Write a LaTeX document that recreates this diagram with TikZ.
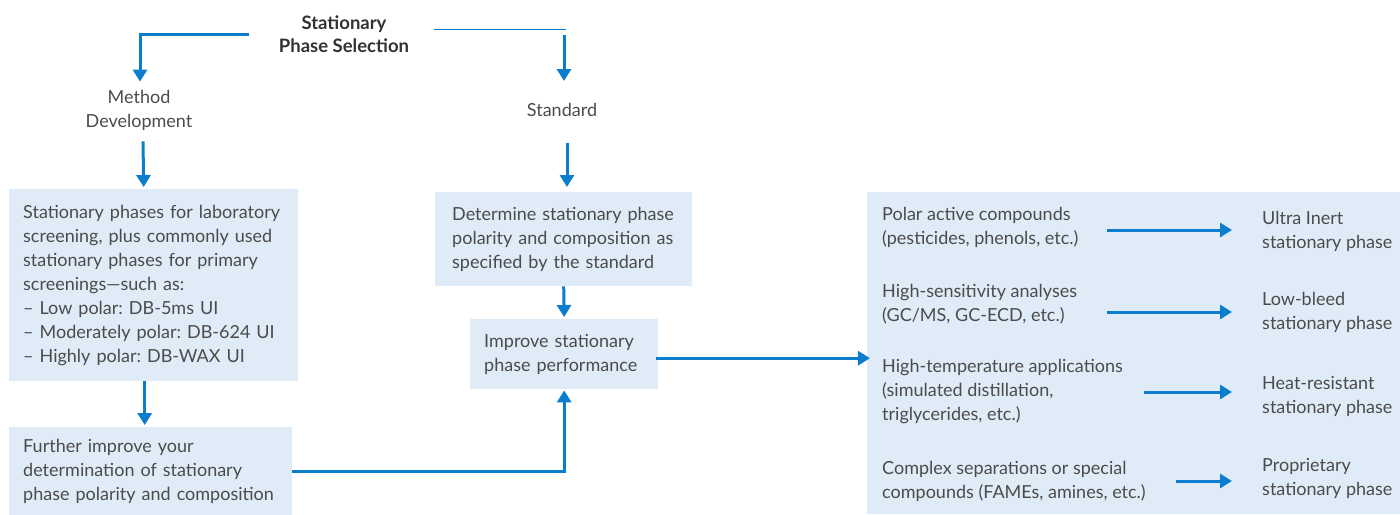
\documentclass[tikz,border=0pt]{standalone}
\usepackage{fontspec}
\setmainfont{Lato}
\frenchspacing
\usetikzlibrary{arrows.meta,calc}
\definecolor{arrblue}{RGB}{10,125,205}
\definecolor{boxfill}{RGB}{223,236,248}
\definecolor{txt}{RGB}{75,75,75}
\definecolor{ttl}{RGB}{50,50,50}
\tikzset{
  arr/.style={draw=arrblue,line width=3pt,-{Triangle[width=14pt,length=12pt]}},
  thin/.style={draw=arrblue,line width=1pt},
  box/.style={fill=boxfill,anchor=north west,inner xsep=14pt,inner ysep=0pt,align=left,text=txt,font=\fontsize{18}{24}\selectfont},
  lbl/.style={inner sep=0pt,text=txt,font=\fontsize{18}{24}\selectfont},
}
\begin{document}
\begin{tikzpicture}[x=1pt,y=-1pt]
\useasboundingbox (0,0) rectangle (1400,514);
% title
\node[inner sep=0pt,align=center,text=ttl,font=\bfseries\fontsize{18.5}{23}\selectfont] (title) at (344,34) {Stationary\\Phase Selection};
\node[lbl,align=center] (method) at (139,110) {Method\\Development};
\node[lbl] (standard) at (562,110) {Standard};
% boxes
\node[box,minimum width=289pt,minimum height=192pt,text width=261pt] (box1) at (9,189)
 {Stationary phases for laboratory\\screening, plus commonly used\\stationary phases for primary\\screenings\textemdash such as:\\\textendash\ Low polar: DB-5ms UI\\\textendash\ Moderately polar: DB-624 UI\\\textendash\ Highly polar: DB-WAX UI};
\node[box,minimum width=283pt,minimum height=88pt,text width=255pt] (box2) at (9,427)
 {Further improve your\\determination of stationary\\phase polarity and composition};
\node[box,minimum width=257pt,minimum height=94pt,text width=223pt,inner xsep=17pt] (box3) at (435,192)
 {Determine stationary phase\\polarity and composition as\\specified by the standard};
\node[box,minimum width=188pt,minimum height=70pt,text width=160pt] (box4) at (470,319)
 {Improve stationary\\phase performance};
\node[box,minimum width=540pt,minimum height=322pt] (big) at (867,192) {};
% rows in big box
\node[lbl,anchor=west,align=left] (l1) at (882,227) {Polar active compounds\\(pesticides, phenols, etc.)};
\node[lbl,anchor=west,align=left] (l2) at (882,304) {High-sensitivity analyses\\(GC/MS, GC-ECD, etc.)};
\node[lbl,anchor=west,align=left] (l3) at (882,392) {High-temperature applications\\(simulated distillation,\\triglycerides, etc.)};
\node[lbl,anchor=west,align=left] (l4) at (882,481) {Complex separations or special\\compounds (FAMEs, amines, etc.)};
\node[lbl,anchor=west,align=left] (r1) at (1262,231) {Ultra Inert\\stationary phase};
\node[lbl,anchor=west,align=left] (r2) at (1262,312) {Low-bleed\\stationary phase};
\node[lbl,anchor=west,align=left] (r3) at (1262,396) {Heat-resistant\\stationary phase};
\node[lbl,anchor=west,align=left] (r4) at (1262,478) {Proprietary\\stationary phase};
\coordinate (a1) at (1107,230);
\coordinate (a2) at (1107,312);
\coordinate (a3) at (1144,392);
\coordinate (a4) at (1176,481);
\draw[arr,shorten >=-2pt] (a1) -- ($(a1 -| r1.west)+(-32,0)$);
\draw[arr,shorten >=-2pt] (a2) -- ($(a2 -| r2.west)+(-32,0)$);
\draw[arr,shorten >=-2pt] (a3) -- ($(a3 -| r3.west)+(-32,0)$);
\draw[arr,shorten >=-2pt] (a4) -- ($(a4 -| r4.west)+(-32,0)$);
% top connectors
\coordinate (tl) at ($(title.west)+(-30,0)$);
\draw[arr] (tl) -| ($(method.north)+(1,-8)$);
\coordinate (tr1) at (434,29);
\coordinate (tr2) at (566,29);
\draw[thin] (tr1) -- (tr2);
\coordinate (sr) at (564,35);
\draw[arr] (sr) -- (564,81);
% vertical arrows
\draw[arr] ($(method.south)+(4,11)$) -- ($(box1.north)+(-10,-2)$);
\draw[arr] ($(standard.south)+(5,26)$) -- ($(standard.south |- box3.north)+(5,-5)$);
\draw[arr] ($(box1.south)+(-9,0)$) -- ($(box2.north)+(-6,-2)$);
\draw[arr] (box3.south) -- ($(box4.north)+(0,-2)$);
\draw[arr] (box2.east) -| ($(box4.south)+(0,1)$);
\draw[arr] ($(box4.east)+(-2,4)$) -- ($(box4.east -| big.west)+(3,4)$);
\end{tikzpicture}
\end{document}
